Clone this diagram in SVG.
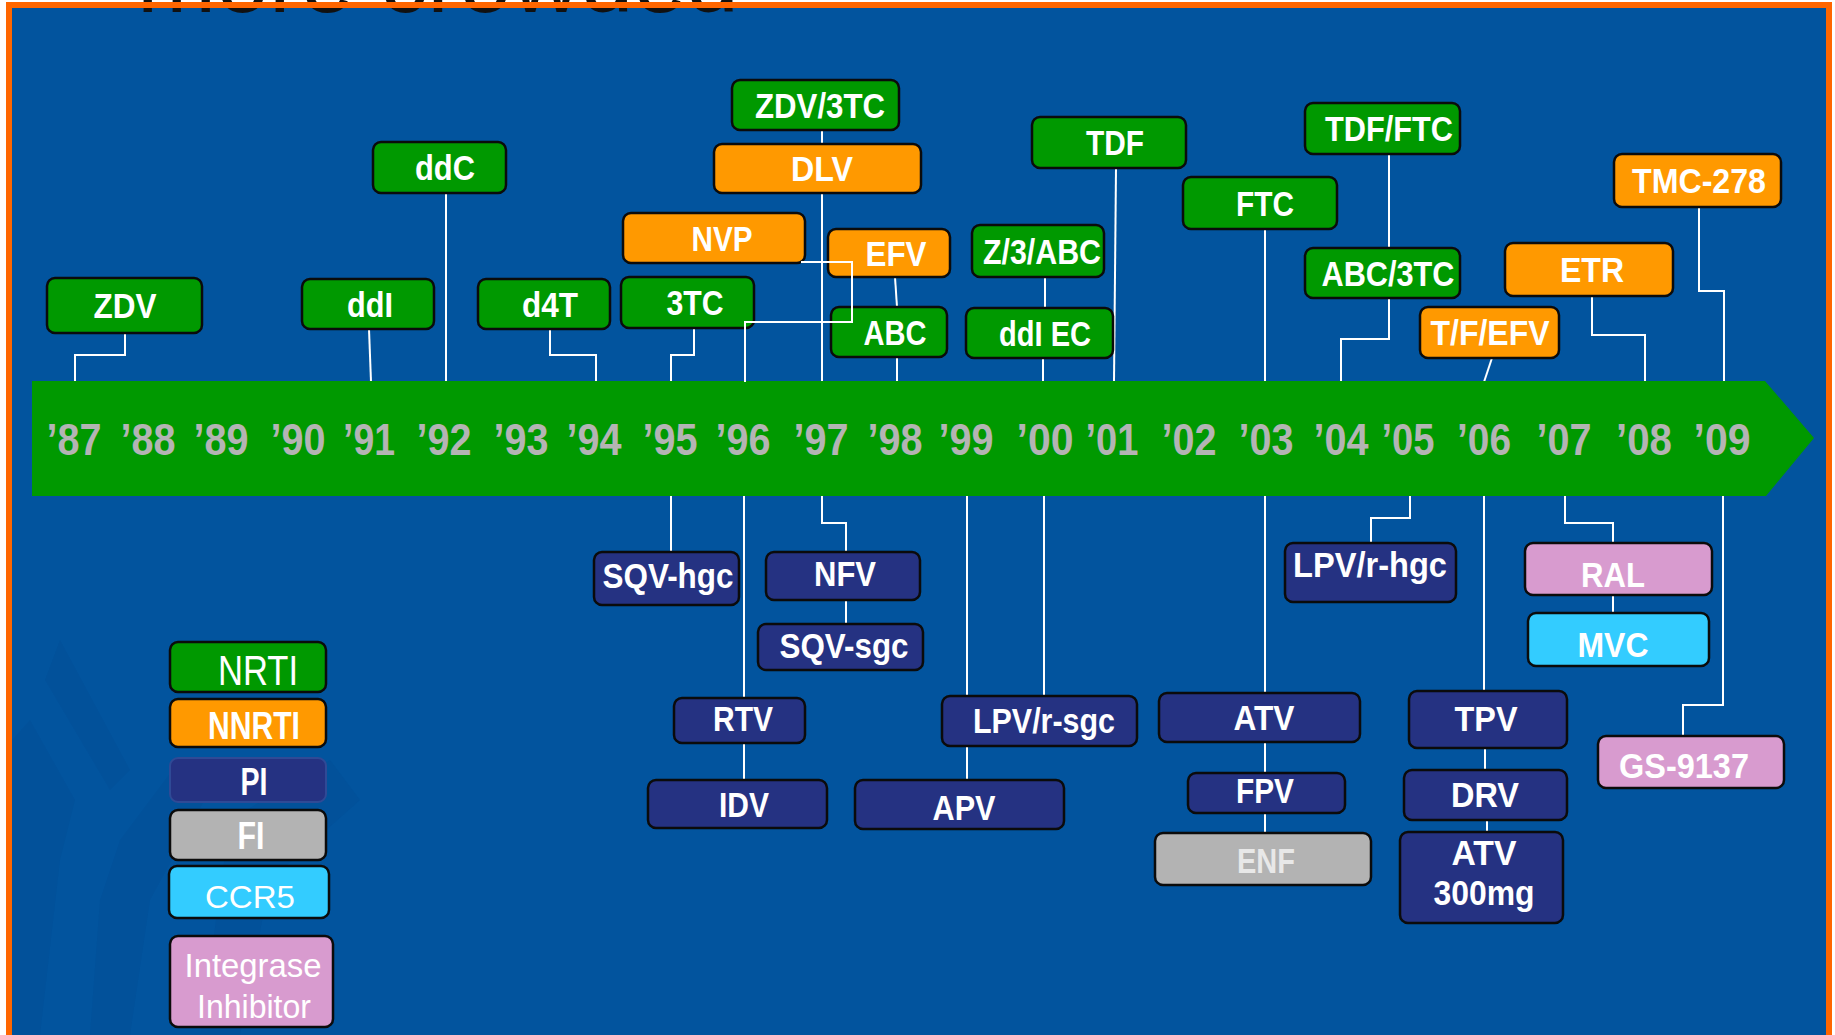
<svg xmlns="http://www.w3.org/2000/svg" width="1835" height="1035" viewBox="0 0 1835 1035">
<style>
.bx{stroke:#0b0b0b;stroke-width:2.5}
.g{fill:#009900}.o{fill:#FF9900}.p{fill:#253282}.f{fill:#B3B3B3}.c{fill:#33CCFF}.i{fill:#D89BCF}
text{font-family:"Liberation Sans",Arial,sans-serif;fill:#ffffff;text-anchor:middle}
.t{font-size:35px;font-weight:bold}
.yr text{font-size:44px;font-weight:bold;fill:#B4B4B4}
.lg{font-size:38px;font-weight:bold}
.lr{font-weight:normal}
.cn{fill:none;stroke:#ffffff;stroke-width:2}
.st{fill:#0a3f80;opacity:0.13}
</style>
<rect x="0" y="0" width="1835" height="1035" fill="#ffffff"/>
<rect x="6" y="2" width="1826" height="1040" fill="#FF6600"/>
<rect x="12" y="8" width="1814" height="1030" fill="#02549E"/>
<g id="statue-shade">
<path class="st" d="M30,720 L75,800 L60,860 L40,1035 L12,1035 L12,740 Z"/>
<path class="st" d="M120,840 L180,760 L210,790 L150,900 L130,1035 L90,1035 L100,900 Z"/>
<path class="st" d="M230,820 L330,760 L360,800 L270,880 L240,1035 L200,1035 Z"/>
<path class="st" d="M60,640 L130,770 L110,790 L45,680 Z"/>
</g>
<text x="137" y="12" style="font-size:95px;fill:#111111;text-anchor:start">more crowded</text>
<rect x="6" y="2" width="1826" height="6" fill="#FF6600"/>

<g id="connectors" class="cn">
<path d="M125,333 V355 H75 V382"/>
<path d="M369,329 L371,382"/>
<path d="M446,193 V382"/>
<path d="M550,329 V355 H596 V382"/>
<path d="M694,328 V355 H671 V382"/>
<path d="M822,130 V144"/>
<path d="M822,193 V382"/>
<path d="M895,277 L897,307"/>
<path d="M897,357 V382"/>
<path d="M1045,277 V308"/>
<path d="M1043,358 V382"/>
<path d="M1116,168 L1114,382"/>
<path d="M1265,229 V382"/>
<path d="M1389,154 V248"/>
<path d="M1389,298 V339 H1341 V382"/>
<path d="M1492,358 L1484,382"/>
<path d="M1592,296 V335 H1645 V382"/>
<path d="M1699,207 V291 H1724 V382"/>
<path d="M671,496 V552"/>
<path d="M744,496 V698"/>
<path d="M744,743 V780"/>
<path d="M822,496 V523 H846 V552"/>
<path d="M846,600 V624"/>
<path d="M967,496 V780"/>
<path d="M1044,496 V696"/>
<path d="M1265,496 V693"/>
<path d="M1265,742 V773"/>
<path d="M1265,813 V833"/>
<path d="M1410,496 V518 H1371 V543"/>
<path d="M1484,496 V691"/>
<path d="M1485,748 V770"/>
<path d="M1487,820 V832"/>
<path d="M1565,496 V523 H1613 V613"/>
<path d="M1723,496 V705 H1683 V736"/>
</g>

<g id="timeline">
<path d="M32,381 H1765 L1814,438 L1766,496 H32 Z" fill="#009900"/>
<g class="yr">
<text x="74" y="455" textLength="55" lengthAdjust="spacingAndGlyphs">’87</text>
<text x="148" y="455" textLength="55" lengthAdjust="spacingAndGlyphs">’88</text>
<text x="221" y="455" textLength="55" lengthAdjust="spacingAndGlyphs">’89</text>
<text x="298" y="455" textLength="55" lengthAdjust="spacingAndGlyphs">’90</text>
<text x="369" y="455" textLength="52" lengthAdjust="spacingAndGlyphs">’91</text>
<text x="444" y="455" textLength="55" lengthAdjust="spacingAndGlyphs">’92</text>
<text x="521" y="455" textLength="55" lengthAdjust="spacingAndGlyphs">’93</text>
<text x="594" y="455" textLength="55" lengthAdjust="spacingAndGlyphs">’94</text>
<text x="670" y="455" textLength="55" lengthAdjust="spacingAndGlyphs">’95</text>
<text x="743" y="455" textLength="55" lengthAdjust="spacingAndGlyphs">’96</text>
<text x="821" y="455" textLength="55" lengthAdjust="spacingAndGlyphs">’97</text>
<text x="895" y="455" textLength="55" lengthAdjust="spacingAndGlyphs">’98</text>
<text x="966" y="455" textLength="55" lengthAdjust="spacingAndGlyphs">’99</text>
<text x="1045" y="455" textLength="57" lengthAdjust="spacingAndGlyphs">’00</text>
<text x="1112" y="455" textLength="53" lengthAdjust="spacingAndGlyphs">’01</text>
<text x="1189" y="455" textLength="55" lengthAdjust="spacingAndGlyphs">’02</text>
<text x="1266" y="455" textLength="55" lengthAdjust="spacingAndGlyphs">’03</text>
<text x="1341" y="455" textLength="55" lengthAdjust="spacingAndGlyphs">’04</text>
<text x="1408" y="455" textLength="53" lengthAdjust="spacingAndGlyphs">’05</text>
<text x="1484" y="455" textLength="54" lengthAdjust="spacingAndGlyphs">’06</text>
<text x="1564" y="455" textLength="55" lengthAdjust="spacingAndGlyphs">’07</text>
<text x="1644" y="455" textLength="56" lengthAdjust="spacingAndGlyphs">’08</text>
<text x="1722" y="455" textLength="57" lengthAdjust="spacingAndGlyphs">’09</text>
</g>
</g>

<g id="n-zdv"><rect class="bx g" x="47" y="278" width="155" height="55" rx="8"/><text class="t" x="125" y="318" textLength="63" lengthAdjust="spacingAndGlyphs">ZDV</text></g>
<g id="n-ddi"><rect class="bx g" x="302" y="279" width="132" height="50" rx="8"/><text class="t" x="370" y="317" textLength="46" lengthAdjust="spacingAndGlyphs">ddI</text></g>
<g id="n-ddc"><rect class="bx g" x="373" y="142" width="133" height="51" rx="8"/><text class="t" x="445" y="180" textLength="60" lengthAdjust="spacingAndGlyphs">ddC</text></g>
<g id="n-d4t"><rect class="bx g" x="478" y="279" width="132" height="50" rx="8"/><text class="t" x="550" y="317" textLength="56" lengthAdjust="spacingAndGlyphs">d4T</text></g>
<g id="n-3tc"><rect class="bx g" x="621" y="277" width="133" height="51" rx="8"/><text class="t" x="695" y="315" textLength="57" lengthAdjust="spacingAndGlyphs">3TC</text></g>
<g id="n-zdv3tc"><rect class="bx g" x="732" y="80" width="167" height="50" rx="8"/><text class="t" x="820" y="117.5" textLength="130" lengthAdjust="spacingAndGlyphs">ZDV/3TC</text></g>
<g id="n-dlv"><rect class="bx o" x="714" y="144" width="207" height="49" rx="8"/><text class="t" x="822" y="181" textLength="62" lengthAdjust="spacingAndGlyphs">DLV</text></g>
<g id="n-nvp"><rect class="bx o" x="623" y="213" width="182" height="50" rx="8"/><text class="t" x="722" y="250.5" textLength="61" lengthAdjust="spacingAndGlyphs">NVP</text></g>
<g id="n-efv"><rect class="bx o" x="828" y="229" width="122" height="48" rx="8"/><text class="t" x="896" y="265.5" textLength="61" lengthAdjust="spacingAndGlyphs">EFV</text></g>
<g id="n-abc"><rect class="bx g" x="831" y="307" width="116" height="50" rx="8"/><text class="t" x="895" y="344.5" textLength="63" lengthAdjust="spacingAndGlyphs">ABC</text></g>
<g id="n-z3abc"><rect class="bx g" x="972" y="225" width="132" height="52" rx="8"/><text class="t" x="1042" y="263.5" textLength="118" lengthAdjust="spacingAndGlyphs">Z/3/ABC</text></g>
<g id="n-ddiec"><rect class="bx g" x="966" y="308" width="147" height="50" rx="8"/><text class="t" x="1045" y="345.5" textLength="92" lengthAdjust="spacingAndGlyphs">ddI EC</text></g>
<g id="n-tdf"><rect class="bx g" x="1032" y="117" width="154" height="51" rx="8"/><text class="t" x="1115" y="155" textLength="58" lengthAdjust="spacingAndGlyphs">TDF</text></g>
<g id="n-ftc"><rect class="bx g" x="1183" y="177" width="154" height="52" rx="8"/><text class="t" x="1265" y="215.5" textLength="58" lengthAdjust="spacingAndGlyphs">FTC</text></g>
<g id="n-tdfftc"><rect class="bx g" x="1305" y="103" width="155" height="51" rx="8"/><text class="t" x="1389" y="141" textLength="128" lengthAdjust="spacingAndGlyphs">TDF/FTC</text></g>
<g id="n-abc3tc"><rect class="bx g" x="1305" y="248" width="155" height="50" rx="8"/><text class="t" x="1388" y="285.5" textLength="133" lengthAdjust="spacingAndGlyphs">ABC/3TC</text></g>
<g id="n-tfefv"><rect class="bx o" x="1420" y="307" width="139" height="51" rx="8"/><text class="t" x="1490" y="345" textLength="119" lengthAdjust="spacingAndGlyphs">T/F/EFV</text></g>
<g id="n-etr"><rect class="bx o" x="1505" y="243" width="168" height="53" rx="8"/><text class="t" x="1592" y="282" textLength="64" lengthAdjust="spacingAndGlyphs">ETR</text></g>
<g id="n-tmc278"><rect class="bx o" x="1614" y="154" width="167" height="53" rx="8"/><text class="t" x="1699" y="193" textLength="134" lengthAdjust="spacingAndGlyphs">TMC-278</text></g>

<g id="n-sqvhgc"><rect class="bx p" x="594" y="552" width="145" height="53" rx="8"/><text class="t" x="668" y="588" textLength="131" lengthAdjust="spacingAndGlyphs">SQV-hgc</text></g>
<g id="n-nfv"><rect class="bx p" x="766" y="552" width="154" height="48" rx="8"/><text class="t" x="845" y="586" textLength="62" lengthAdjust="spacingAndGlyphs">NFV</text></g>
<g id="n-sqvsgc"><rect class="bx p" x="758" y="624" width="165" height="46" rx="8"/><text class="t" x="844" y="658" textLength="129" lengthAdjust="spacingAndGlyphs">SQV-sgc</text></g>
<g id="n-rtv"><rect class="bx p" x="674" y="698" width="131" height="45" rx="8"/><text class="t" x="743" y="731" textLength="60" lengthAdjust="spacingAndGlyphs">RTV</text></g>
<g id="n-idv"><rect class="bx p" x="648" y="780" width="179" height="48" rx="8"/><text class="t" x="744" y="817" textLength="50" lengthAdjust="spacingAndGlyphs">IDV</text></g>
<g id="n-lpvrsgc"><rect class="bx p" x="942" y="696" width="195" height="50" rx="8"/><text class="t" x="1044" y="733" textLength="142" lengthAdjust="spacingAndGlyphs">LPV/r-sgc</text></g>
<g id="n-apv"><rect class="bx p" x="855" y="780" width="209" height="49" rx="8"/><text class="t" x="964" y="820" textLength="63" lengthAdjust="spacingAndGlyphs">APV</text></g>
<g id="n-atv"><rect class="bx p" x="1159" y="693" width="201" height="49" rx="8"/><text class="t" x="1264" y="730" textLength="61" lengthAdjust="spacingAndGlyphs">ATV</text></g>
<g id="n-fpv"><rect class="bx p" x="1188" y="773" width="157" height="40" rx="8"/><text class="t" x="1265" y="803" textLength="58" lengthAdjust="spacingAndGlyphs">FPV</text></g>
<g id="n-enf"><rect class="bx f" x="1155" y="833" width="216" height="52" rx="8"/><text class="t" x="1266" y="873" textLength="58" lengthAdjust="spacingAndGlyphs" style="fill:#e8e8e8">ENF</text></g>
<g id="n-lpvrhgc"><rect class="bx p" x="1285" y="543" width="171" height="59" rx="8"/><text class="t" x="1370" y="577" textLength="154" lengthAdjust="spacingAndGlyphs">LPV/r-hgc</text></g>
<g id="n-tpv"><rect class="bx p" x="1409" y="691" width="158" height="57" rx="8"/><text class="t" x="1486" y="731" textLength="63" lengthAdjust="spacingAndGlyphs">TPV</text></g>
<g id="n-drv"><rect class="bx p" x="1404" y="770" width="163" height="50" rx="8"/><text class="t" x="1485" y="807" textLength="68" lengthAdjust="spacingAndGlyphs">DRV</text></g>
<g id="n-atv300"><rect class="bx p" x="1400" y="832" width="163" height="91" rx="8"/><text class="t" x="1484" y="865" textLength="65" lengthAdjust="spacingAndGlyphs">ATV</text><text class="t" x="1484" y="905" textLength="101" lengthAdjust="spacingAndGlyphs">300mg</text></g>
<g id="n-ral"><rect class="bx i" x="1525" y="543" width="187" height="52" rx="8"/><text class="t" x="1613" y="587" textLength="64" lengthAdjust="spacingAndGlyphs">RAL</text></g>
<g id="n-mvc"><rect class="bx c" x="1528" y="613" width="181" height="53" rx="8"/><text class="t" x="1613" y="657" textLength="71" lengthAdjust="spacingAndGlyphs">MVC</text></g>
<g id="n-gs9137"><rect class="bx i" x="1598" y="736" width="186" height="52" rx="8"/><text class="t" x="1684" y="778" textLength="130" lengthAdjust="spacingAndGlyphs">GS-9137</text></g>

<g id="connectors-over" class="cn">
<path d="M801,262 H852 V322 H745 V382"/>
</g>

<g id="legend">
<g id="lg-nrti"><rect class="bx g" x="170" y="642" width="156" height="50" rx="8"/><text class="lg lr" x="258" y="685" style="font-size:42px" textLength="80" lengthAdjust="spacingAndGlyphs">NRTI</text></g>
<g id="lg-nnrti"><rect class="bx o" x="170" y="699" width="156" height="48" rx="8"/><text class="lg" x="254" y="739" textLength="92" lengthAdjust="spacingAndGlyphs">NNRTI</text></g>
<g id="lg-pi"><rect x="170" y="758" width="156" height="44" rx="8" fill="#253282" stroke="#2f4a96" stroke-width="2"/><text class="lg" x="254" y="795" textLength="27" lengthAdjust="spacingAndGlyphs">PI</text></g>
<g id="lg-fi"><rect class="bx f" x="170" y="810" width="156" height="50" rx="8"/><text class="lg" x="251" y="849" textLength="27" lengthAdjust="spacingAndGlyphs">FI</text></g>
<g id="lg-ccr5"><rect class="bx c" x="169" y="866" width="160" height="52" rx="8"/><text class="lr" x="250" y="908" style="font-size:32px" textLength="90" lengthAdjust="spacingAndGlyphs">CCR5</text></g>
<g id="lg-ii"><rect class="bx i" x="170" y="936" width="163" height="91" rx="8"/><text class="lr" x="253" y="977" style="font-size:33px" textLength="137" lengthAdjust="spacingAndGlyphs">Integrase</text><text class="lr" x="254" y="1018" style="font-size:33px" textLength="114" lengthAdjust="spacingAndGlyphs">Inhibitor</text></g>
</g>
</svg>
